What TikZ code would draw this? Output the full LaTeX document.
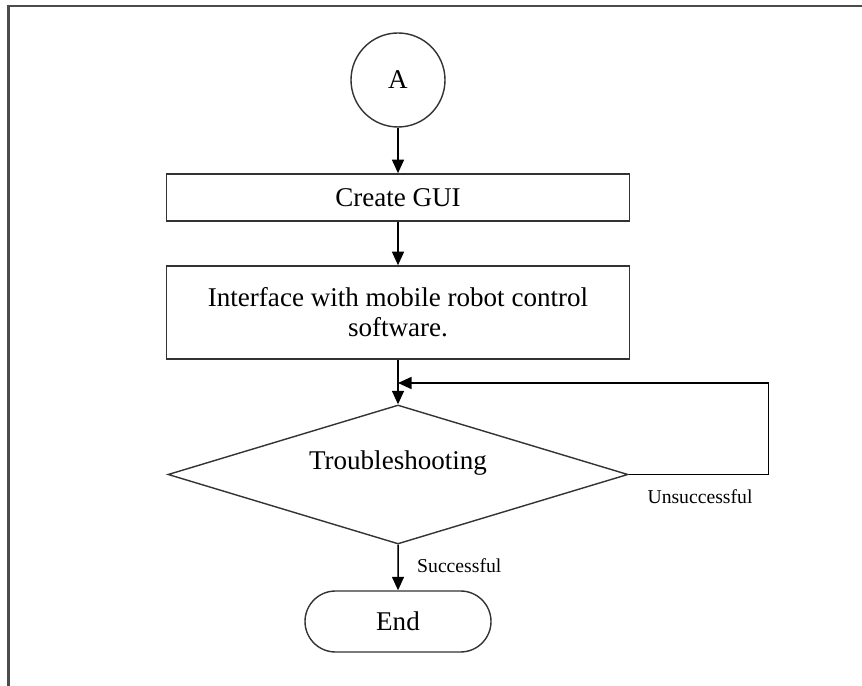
\documentclass[tikz,border=0pt]{standalone}
\usepackage{fontspec}
\setmainfont{Liberation Serif}
\usetikzlibrary{arrows.meta,shapes.geometric,shapes.misc}

\begin{document}
\begin{tikzpicture}[
    txt/.style={font=\fontsize{15.4}{17.1}\selectfont},
    box/.style={txt,draw=black!80,line width=0.9pt,rectangle,minimum width=9.26cm,inner sep=0pt},
    flow/.style={line width=0.85pt,-{Triangle[length=0.27cm,width=0.24cm]}},
    tag/.style={font=\fontsize{11.2}{13}\selectfont}]
    \useasboundingbox (0,0) rectangle (17.24,13.72);
    \draw[line width=1.2pt,black!70](0.17,0)--(0.17,13.6)--(17.24,13.6);
    \node[txt,draw=black!80,line width=0.8pt,circle,minimum size=1.88cm,inner sep=0pt] (A) at (7.96,12.12) {A};
    \node[box,minimum height=0.94cm] (gui) at (7.96,9.77) {Create GUI};
    \node[box,minimum height=1.86cm,align=center] (iface) at (7.96,7.47) {Interface with mobile robot control\\software.};
    \node[draw=black!80,line width=0.8pt,diamond,aspect=3.31,minimum width=9.2cm,minimum height=2.78cm,inner sep=0pt,
        label={[txt,name=troubletext,yshift=0.22cm]center:Troubleshooting}] (trouble) at (7.96,4.23) {};
    \node[txt,draw=black!80,line width=0.8pt,rounded rectangle,minimum width=3.72cm,minimum height=1.22cm,inner sep=0pt] (end) at (7.96,1.29) {End};
    \coordinate (merge) at (7.96,6.06);
    \draw[flow](A)--(gui);
    \draw[flow](gui)--(iface);
    \draw[flow](iface)--(trouble);
    \draw[flow](trouble.east)--++(2.8,0)|-(merge);
    \draw[flow](trouble.south)--(end);
    \node[tag,anchor=west] (succ) at (8.22,2.40) {Successful};
    \node[tag] (unsucc) at (14.0,3.78) {Unsuccessful};
\end{tikzpicture}
\end{document}
